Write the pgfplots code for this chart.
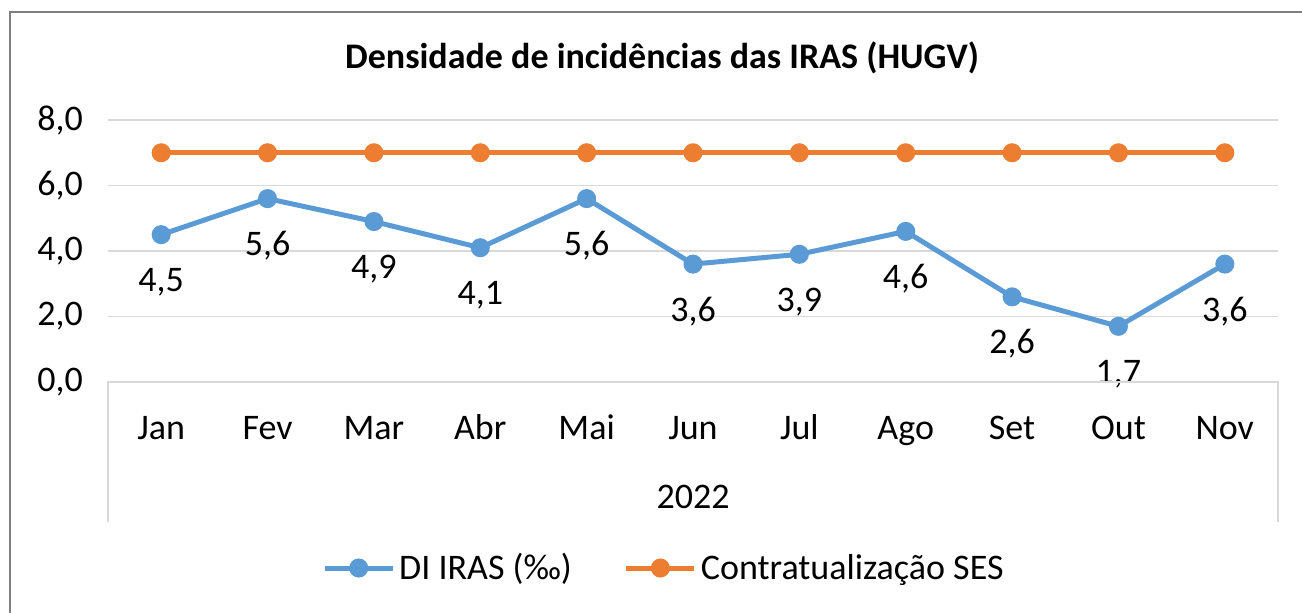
\documentclass[border=0pt]{standalone}
\usepackage{fontspec}
\setmainfont{Carlito}
\usepackage{pgfplots}
\pgfplotsset{compat=1.18}
\definecolor{blueS}{HTML}{5B9BD5}
\definecolor{orangeS}{HTML}{ED7D31}
\definecolor{gridc}{HTML}{D9D9D9}
\definecolor{framec}{HTML}{808080}
\begin{document}
\begin{tikzpicture}[font=\fontsize{18}{21}\selectfont]
\path[use as bounding box] (-54pt,-115pt) rectangle (597pt,191pt);
\draw[framec, line width=1pt] (-49pt,-120pt) -- (-49pt,185pt) -- (600pt,185pt);
\begin{axis}[
  at={(0,0)}, anchor=south west,
  scale only axis, width=585pt, height=131pt,
  xmin=-0.5, xmax=10.5, ymin=0, ymax=8,
  xtick={0,...,10},
  xticklabels={Jan,Fev,Mar,Abr,Mai,Jun,Jul,Ago,Set,Out,Nov},
  ytick={0,2,4,6,8},
  axis line style={draw=none}, major tick length=0pt,
  ymajorgrids, grid style={gridc, line width=0.75pt},
  xticklabel style={anchor=base, yshift=-28.5pt},
  yticklabel style={anchor=east, xshift=-9pt},
  /pgf/number format/assume math mode=true,
  y tick label style={/pgf/number format/use comma,/pgf/number format/fixed,/pgf/number format/fixed zerofill,/pgf/number format/precision=1},
  clip=false,
  legend columns=2,
  legend style={at={(0.476,-0.710)}, anchor=center, draw=none, fill=none,
    /tikz/every even column/.append style={column sep=24pt}},
  legend image code/.code={\draw[mark repeat=2,mark phase=2,#1] plot coordinates {(0pt,0pt) (17pt,0pt) (34pt,0pt)};},
]
\addplot[blueS, line width=2.5pt, mark=*, mark size=3.5pt,
  nodes near coords={\pgfmathprintnumber[use comma,fixed,fixed zerofill,precision=1,assume math mode=true]{\pgfplotspointmeta}},
  every node near coord/.append style={black, anchor=base, yshift=-28.5pt, font=\fontsize{18}{21}\selectfont}]
  coordinates {(0,4.5) (1,5.6) (2,4.9) (3,4.1) (4,5.6) (5,3.6) (6,3.9) (7,4.6) (8,2.6) (9,1.7) (10,3.6)};
\addlegendentry{DI IRAS (‰)}
\addplot[orangeS, line width=2.5pt, mark=*, mark size=3.5pt]
  coordinates {(0,7) (1,7) (2,7) (3,7) (4,7) (5,7) (6,7) (7,7) (8,7) (9,7) (10,7)};
\addlegendentry{Contratualização SES}
\end{axis}
\draw[gridc, line width=0.75pt] (0pt,-70pt) -- (0pt,0pt) -- (585pt,0pt) -- (585pt,-70pt);
\node[anchor=base] at (292.5pt,-63pt) {2022};
\node[font=\fontsize{18}{21}\selectfont\bfseries] at (277pt,162pt) {Densidade de incidências das IRAS (HUGV)};
\end{tikzpicture}
\end{document}
